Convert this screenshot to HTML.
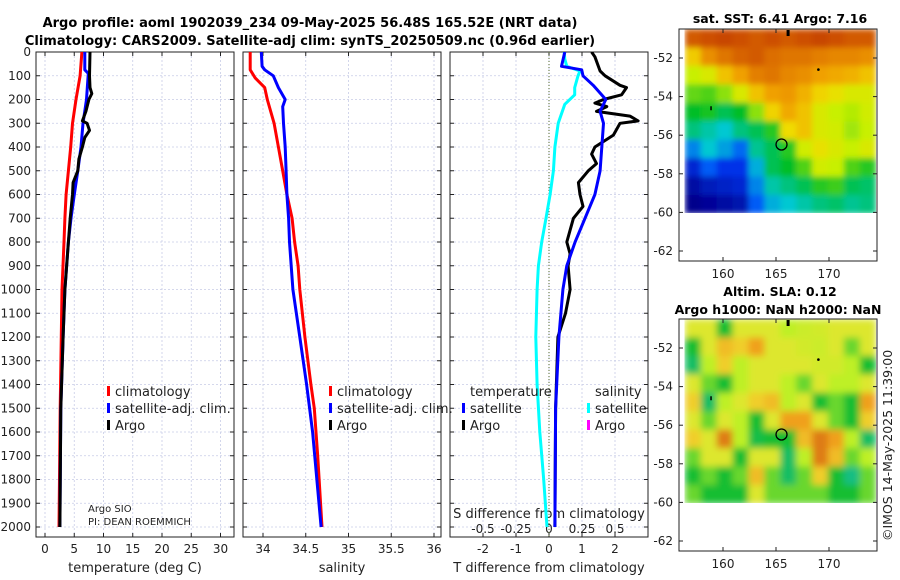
<!DOCTYPE html>
<html><head><meta charset="utf-8"><style>
body{margin:0;background:#fff;}
svg{display:block;font-family:"DejaVu Sans","Liberation Sans",sans-serif;}
</style></head><body>
<svg id="c" width="900" height="580" viewBox="0 0 900 580" xmlns="http://www.w3.org/2000/svg">
<defs>
<filter id="blur" x="0" y="0" width="1" height="1"><feGaussianBlur stdDeviation="3.5" edgeMode="duplicate"/></filter>
<filter id="blur2" x="0" y="0" width="1" height="1"><feGaussianBlur stdDeviation="3" edgeMode="duplicate"/></filter>
<clipPath id="cp1"><rect x="36" y="52" width="198" height="485"/></clipPath>
<clipPath id="cp2"><rect x="243" y="52" width="198" height="485"/></clipPath>
<clipPath id="cp3"><rect x="450" y="52" width="198" height="485"/></clipPath>
<clipPath id="cm1"><rect x="680" y="29" width="196" height="184"/></clipPath>
<clipPath id="cm2"><rect x="680" y="319" width="196" height="184"/></clipPath>
</defs>
<text x="310" y="27" text-anchor="middle" font-size="13" font-weight="bold">Argo profile: aoml 1902039_234 09-May-2025 56.48S 165.52E (NRT data)</text>
<text x="310" y="45" text-anchor="middle" font-size="13" font-weight="bold">Climatology: CARS2009. Satellite-adj clim: synTS_20250509.nc (0.96d earlier)</text>
<g id="g"></g>
</svg>
<script>
// ---- profile data ----
const depthTclim=[0,100,200,300,400,500,600,700,800,1000,1500,2000];
const tempClim=[6.3,6.0,5.3,4.7,4.4,4.0,3.6,3.4,3.25,2.9,2.6,2.4];
const depthTsat=[0,75,90,200,300,400,500,600,700,800,1000,1200,1500,2000];
const tempSat=[6.8,6.8,7.4,7.1,6.5,6.15,5.6,5.0,4.45,4.0,3.4,3.1,2.7,2.55];
const depthTargo=[0,100,150,175,200,250,290,300,330,360,400,450,500,550,600,700,800,1000,1200,1500,2000];
const tempArgo=[7.7,7.6,7.7,8.0,7.5,7.0,6.4,7.2,7.6,6.8,6.4,5.8,5.6,4.8,4.7,4.3,4.0,3.4,3.1,2.7,2.55];
const depthSclim=[0,75,110,150,200,300,400,500,600,700,800,900,1000,1200,1400,1500,1700,2000];
const salClim=[33.85,33.85,33.91,34.02,34.05,34.13,34.18,34.23,34.28,34.34,34.37,34.41,34.43,34.49,34.56,34.6,34.64,34.69];
const depthSsat=[0,60,75,100,150,200,230,300,400,500,600,700,800,1000,1200,1400,1600,2000];
const salSat=[33.98,33.99,34.02,34.12,34.18,34.26,34.23,34.24,34.26,34.27,34.28,34.3,34.31,34.35,34.43,34.51,34.58,34.68];
const depthTdSat=[0,60,75,100,140,200,250,300,400,500,600,700,800,900,1000,1200,1500,2000];
const tDiffSat=[0.48,0.38,0.99,1.03,1.34,1.72,1.55,1.65,1.6,1.55,1.39,1.09,0.79,0.54,0.42,0.3,0.2,0.18];
const depthSdSat=[0,30,60,80,100,150,180,220,300,400,500,600,700,800,900,1000,1200,1400,1600,1800,2000];
const sDiffSat=[0.115,0.12,0.135,0.235,0.22,0.195,0.195,0.12,0.07,0.045,0.033,0.008,-0.023,-0.055,-0.08,-0.09,-0.1,-0.09,-0.07,-0.04,-0.015];
const depthTdArgo=[0,20,80,100,140,150,180,200,215,230,250,270,290,300,350,400,430,470,500,550,600,650,700,800,850,900,1000,1100,1200,1500,2000];
const tDiffArgo=[1.29,1.39,1.55,1.7,2.15,2.35,2.2,1.65,1.39,1.75,1.44,2.45,2.7,2.15,1.95,1.39,1.29,1.44,1.19,0.89,0.94,1.03,0.74,0.54,0.64,0.58,0.64,0.5,0.27,0.2,0.18];
const depthTicks=[0,100,200,300,400,500,600,700,800,900,1000,1100,1200,1300,1400,1500,1600,1700,1800,1900,2000];
const tempTicks=[0,5,10,15,20,25,30];
const salTicks=[34,34.5,35,35.5,36];
const tdTicks=[-2,-1,0,1,2];
const sdTicks=[-0.5,-0.25,0,0.25,0.5];
const sdTickLabels=["-0.5","-0.25","0","0.25","0.5"];
// ---- map data ----
const sstGrid=[
[8.8,8.9,9.0,8.9,8.8,8.9,8.8,8.9,9.0,8.9,8.8,8.8],
[7.5,8.2,8.5,8.7,8.8,8.6,8.5,8.5,8.4,8.3,8.3,8.2],
[6.8,7.0,7.6,8.0,8.4,8.5,8.3,8.2,8.0,7.9,7.8,7.6],
[6.3,6.2,6.5,7.0,7.6,8.0,8.1,7.8,7.4,7.2,7.0,7.0],
[5.8,5.9,5.6,5.8,6.5,7.4,7.9,7.6,7.0,6.8,6.7,6.9],
[5.4,5.2,5.0,5.4,5.6,6.0,7.3,7.6,7.0,6.9,6.6,6.8],
[4.5,5.0,4.7,4.3,5.3,5.6,6.0,6.9,7.2,7.0,6.8,7.0],
[3.6,4.2,3.8,3.8,4.8,5.6,5.8,6.2,6.9,6.8,6.2,6.0],
[3.2,3.4,3.5,3.6,4.5,5.2,5.4,5.6,6.0,6.1,5.6,5.5],
[3.0,3.1,3.2,3.3,4.2,4.8,5.0,5.2,5.4,5.5,5.3,5.4]];
const slaGrid=[
[0.05,0.05,-0.1,0.05,0.05,0.05,0,0.02,0.03,0.05,0.05,0.05],
[-0.1,0.05,0.12,0.1,0.15,0.05,0.05,0.03,0.02,0.05,-0.05,0.05],
[-0.15,0,0.1,0,0.05,0.05,0.05,0.05,0.03,0.03,0.0,-0.1],
[0.05,-0.05,-0.1,0,0.05,0.05,0.0,-0.05,0.05,0,0,0.05],
[0.1,-0.15,0.0,0.05,0.1,0.12,0.0,0.05,-0.1,-0.05,-0.1,0.15],
[0.05,-0.05,0.05,0,-0.1,0.05,0.15,0.15,0.05,-0.05,-0.1,0.1],
[0.1,0.05,0.18,0.0,-0.12,-0.1,-0.1,0.12,0.18,0.15,0,-0.15],
[-0.05,0.05,0.05,-0.1,0.05,0.05,-0.15,0,0.18,0.12,-0.05,0.0],
[-0.1,-0.05,-0.1,-0.05,0.12,-0.05,-0.15,-0.05,0.1,-0.1,-0.18,-0.05],
[-0.05,-0.1,-0.1,-0.1,0.05,-0.05,-0.05,-0.05,-0.05,-0.1,-0.1,-0.05]];
const latTicks=[-52,-54,-56,-58,-60,-62];
const lonTicks=[160,165,170];
const floatLon=165.52, floatLat=-56.48;

const NS="http://www.w3.org/2000/svg";
const G=document.getElementById('g');
function mk(tag,attrs,parent){const e=document.createElementNS(NS,tag);for(const k in attrs)e.setAttribute(k,attrs[k]);(parent||G).appendChild(e);return e;}
function txt(x,y,s,attrs,parent){const e=mk('text',Object.assign({x:x,y:y,'font-size':12,fill:'#222'},attrs||{}),parent);e.textContent=s;return e;}

const yD=d=>52+d*0.2375;
const xT=v=>45+v*5.85;
const xS=v=>263+(v-34)*85.5;
const xTd=v=>549+v*33;
const xSd=v=>549+v*132;

const panels=[{x:36,ticks:tempTicks,f:xT,labels:tempTicks.map(String),title:'temperature (deg C)',name:'temperature-panel'},
{x:243,ticks:salTicks,f:xS,labels:salTicks.map(String),title:'salinity',name:'salinity-panel'},
{x:450,ticks:tdTicks,f:xTd,labels:tdTicks.map(String),title:'T difference from climatology',name:'difference-panel'}];
const PT=52,PB=537,PW=198;
panels.forEach((p,i)=>{
  const g=mk('g',{});
  
  
  depthTicks.forEach(d=>{
    const l=mk('line',{x1:p.x,x2:p.x+PW,y1:yD(d),y2:yD(d),stroke:'#c8cce6','stroke-width':0.8,'stroke-dasharray':'2,2'},g);
    
    
    mk('line',{x1:p.x,x2:p.x+4,y1:yD(d),y2:yD(d),stroke:'#222'},g);
    mk('line',{x1:p.x+PW-4,x2:p.x+PW,y1:yD(d),y2:yD(d),stroke:'#222'},g);
    if(i===0){const t=txt(31,yD(d)+4,String(d),{'text-anchor':'end'},g);
      
      }
  });
  p.ticks.forEach((v,j)=>{
    const x=p.f(v);
    const l=mk('line',{x1:x,x2:x,y1:PT,y2:PB,stroke:'#c8cce6','stroke-width':0.8,'stroke-dasharray':'2,2'},g);
    
    
    mk('line',{x1:x,x2:x,y1:PB-4,y2:PB,stroke:'#222'},g);
    mk('line',{x1:x,x2:x,y1:PT,y2:PT+4,stroke:'#222'},g);
    const t=txt(x,553,p.labels[j],{'text-anchor':'middle'},g);
    
    
  });
  const r=mk('rect',{x:p.x,y:PT,width:PW,height:PB-PT,fill:'none',stroke:'#222','stroke-width':1},g);
  
  
  const t=txt(p.x+PW/2,572,p.title,{'text-anchor':'middle','font-size':13},g);
  
  
});
sdTicks.forEach((v,j)=>{
  mk('line',{x1:xSd(v),x2:xSd(v),y1:PB-4,y2:PB,stroke:'#222'});
  const t=txt(xSd(v),533,sdTickLabels[j],{'text-anchor':'middle'});
  
  
});
const st=txt(549,518,'S difference from climatology',{'text-anchor':'middle','font-size':13});


const zl=mk('line',{x1:xTd(0),x2:xTd(0),y1:PT,y2:PB,stroke:'#556b2f','stroke-width':1,'stroke-dasharray':'1,2'});



function series(ds,vs,fx,color,clip,name,w){
  const pts=ds.map((d,i)=>fx(vs[i]).toFixed(1)+','+yD(d).toFixed(1)).join(' ');
  const e=mk('polyline',{points:pts,fill:'none',stroke:color,'stroke-width':w||3,'stroke-linejoin':'round','clip-path':'url(#'+clip+')'});
  
  
}
series(depthTclim,tempClim,xT,'#ff0000','cp1','temp-climatology-line');
series(depthTsat,tempSat,xT,'#0000ff','cp1','temp-satellite-line');
series(depthTargo,tempArgo,xT,'#000000','cp1','temp-argo-line');
series(depthSclim,salClim,xS,'#ff0000','cp2','salinity-climatology-line');
series(depthSsat,salSat,xS,'#0000ff','cp2','salinity-satellite-line');
series(depthSdSat,sDiffSat,xSd,'#00ffff','cp3','salinity-diff-satellite-line');
series(depthTdArgo,tDiffArgo,xTd,'#000000','cp3','temp-diff-argo-line');
series(depthTdSat,tDiffSat,xTd,'#0000ff','cp3','temp-diff-satellite-line');

function legendEntry(x,y,color,label,name){
  const g=mk('g',{});
  
  
  if(color) mk('rect',{x:x,y:y-10,width:3,height:10,fill:color},g);
  txt(x+8,y,label,{'font-size':13},g);
}
legendEntry(107,396,'#ff0000','climatology','legend-climatology');
legendEntry(107,413,'#0000ff','satellite-adj. clim.','legend-satellite-adj');
legendEntry(107,430,'#000000','Argo','legend-argo');
legendEntry(329,396,'#ff0000','climatology','legend-climatology-sal');
legendEntry(329,413,'#0000ff','satellite-adj. clim.','legend-satellite-adj-sal');
legendEntry(329,430,'#000000','Argo','legend-argo-sal');
legendEntry(462,396,null,'temperature','legend-temperature-header');
legendEntry(462,413,'#0000ff','satellite','legend-temp-satellite');
legendEntry(462,430,'#000000','Argo','legend-temp-argo');
legendEntry(587,396,null,'salinity','legend-salinity-header');
legendEntry(587,413,'#00ffff','satellite','legend-sal-satellite');
legendEntry(587,430,'#ff00ff','Argo','legend-sal-argo');
const a1=txt(88,512,'Argo SIO',{'font-size':10});


const a2=txt(88,525,'PI: DEAN ROEMMICH',{'font-size':10});



// ---- maps ----
function lerpColor(stops,v){
  if(v<=stops[0][0])return 'rgb('+stops[0][1].join(',')+')';
  for(let i=1;i<stops.length;i++){if(v<=stops[i][0]){const t=(v-stops[i-1][0])/(stops[i][0]-stops[i-1][0]);const a=stops[i-1][1],b=stops[i][1];return 'rgb('+a.map((c,k)=>Math.round(c+(b[k]-c)*t)).join(',')+')';}}
  return 'rgb('+stops[stops.length-1][1].join(',')+')';
}
const sstStops=[[3,[0,0,140]],[4,[0,64,255]],[5,[0,200,210]],[5.8,[0,190,40]],[6.8,[200,240,0]],[7.3,[240,220,0]],[8,[240,160,0]],[8.6,[220,110,0]],[9.2,[190,50,0]]];
const slaStops=[[-0.2,[20,190,150]],[-0.1,[20,190,50]],[0,[190,240,40]],[0.08,[240,225,50]],[0.15,[240,160,30]],[0.2,[210,100,20]]];
const lonX=lon=>723+(lon-160)*10.6;
function drawMap(off,grid,stops,clip,title1,title2,name,sm){
  const latY=lat=>off+58+(-52-lat)*19.3;
  const g=mk('g',{});
  
  
  const hm=mk('g',{'clip-path':'url(#'+clip+')'},g);
  const inner=mk('g',{filter:sm},hm);
  const rows=grid.length,cols=grid[0].length;
  const lon0=156.4,lon1=174.4,lat0=-50.5,lat1=-60.05;
  const dlon=(lon1-lon0)/cols,dlat=(lat0-lat1)/rows;
  grid.forEach((row,r)=>row.forEach((v,c)=>{
    const x=lonX(lon0+c*dlon),y=latY(lat0-r*dlat);
    const e=mk('rect',{x:x,y:y,width:lonX(lon0+(c+1)*dlon)-x+0.5,height:latY(lat0-(r+1)*dlat)-y+0.5,fill:lerpColor(stops,v)},inner);
    
    
  }));
  mk('rect',{x:lonX(166.0),y:latY(-50.55),width:3,height:6,fill:'#000'},g);
  mk('circle',{cx:lonX(169.0),cy:latY(-52.6),r:1.3,fill:'#000'},g);
  mk('rect',{x:lonX(158.8),y:latY(-54.5),width:1.5,height:4,fill:'#000'},g);
  const mc=mk('circle',{cx:lonX(floatLon),cy:latY(floatLat),r:5.5,fill:'none',stroke:'#000','stroke-width':1.3},g);
  
  
  const top=off+29,bot=off+261;
  mk('rect',{x:679,y:top,width:198,height:bot-top,fill:'none',stroke:'#222'},g);
  latTicks.forEach(l=>{const y=latY(l);
    mk('line',{x1:679,x2:683,y1:y,y2:y,stroke:'#222'},g);mk('line',{x1:873,x2:877,y1:y,y2:y,stroke:'#222'},g);
    const t=txt(673,y+4,String(l),{'text-anchor':'end'},g);
    
    });
  lonTicks.forEach(l=>{const x=lonX(l);
    mk('line',{x1:x,x2:x,y1:bot-4,y2:bot,stroke:'#222'},g);mk('line',{x1:x,x2:x,y1:top,y2:top+4,stroke:'#222'},g);
    const t=txt(x,bot+17,String(l),{'text-anchor':'middle'},g);
    
    });
  if(title1){const t=txt(780,off+(title2?6:23),title1,{'text-anchor':'middle','font-weight':'bold','font-size':12.5,fill:'#000'},g);
    
    }
  if(title2){const t=txt(778,off+24,title2,{'text-anchor':'middle','font-weight':'bold','font-size':12.5,fill:'#000'},g);
    
    }
}
drawMap(0,sstGrid,sstStops,'cm1','sat. SST: 6.41 Argo: 7.16',null,'sst-map','url(#blur2)');
drawMap(290,slaGrid,slaStops,'cm2','Altim. SLA: 0.12','Argo h1000: NaN h2000: NaN','sla-map','url(#blur)');
const cr=txt(0,0,'©IMOS 14-May-2025 11:39:00',{'font-size':12.5,transform:'translate(892,541) rotate(-90)'});


</script>
</body></html>
